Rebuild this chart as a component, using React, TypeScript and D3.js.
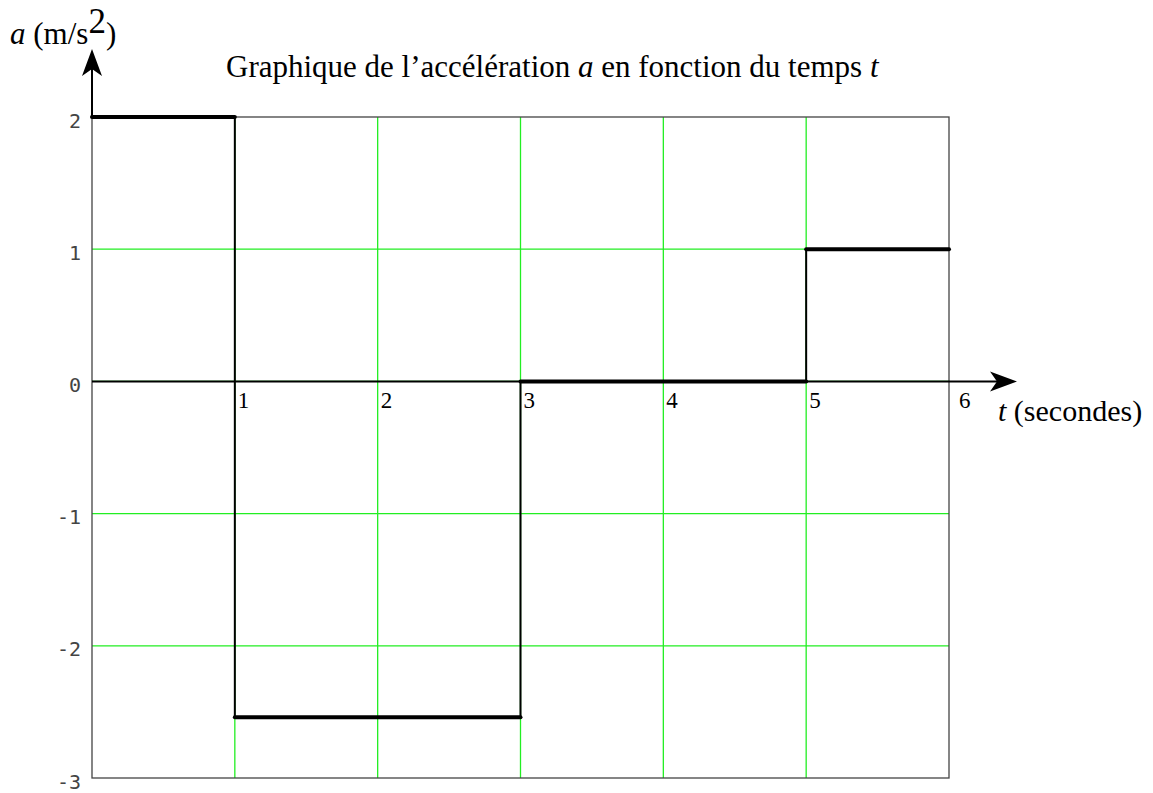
import React from "react";
import * as d3 from "d3";

// Piecewise-constant acceleration a(t)
const segStart = [0, 1, 3, 5];
const segEnd = [1, 3, 5, 6];
const accel = [2, -2.54, 0, 1];

const xTicks = [1, 2, 3, 4, 5, 6];
const yTicks = [2, 1, 0, -1, -2, -3];

const W = 1153;
const H = 793;

export default function App() {
  const x = d3.scaleLinear().domain([0, 6]).range([92, 949]);
  const y = d3.scaleLinear().domain([-3, 2]).range([778, 117]);

  const serif = "'Liberation Serif', 'Times New Roman', serif";
  const mono = "'DejaVu Sans Mono', monospace";

  const verticals = segStart.slice(1).map((t, i) => ({
    t,
    from: accel[i],
    to: accel[i + 1],
  }));

  return (
    <svg
      width={W}
      height={H}
      style={{ position: "absolute", left: 0, top: 0, background: "#fff" }}
    >
      {/* grid */}
      {xTicks.slice(0, 5).map((t) => (
        <line key={"gx" + t} x1={x(t)} x2={x(t)} y1={y(2)} y2={y(-3)} stroke="#22ee22" strokeWidth={1.3} />
      ))}
      {yTicks.slice(1, 5).map((v) => (
        <line key={"gy" + v} x1={x(0)} x2={x(6)} y1={y(v)} y2={y(v)} stroke="#22ee22" strokeWidth={1.3} />
      ))}
      {/* frame */}
      <rect x={x(0)} y={y(2)} width={x(6) - x(0)} height={y(-3) - y(2)} fill="none" stroke="#444" strokeWidth={1.3} />

      {/* time axis with arrow */}
      <line x1={x(0)} x2={1012} y1={y(0)} y2={y(0)} stroke="#000" strokeWidth={2} />
      <path d={`M1017,${y(0)} L990,${y(0) - 10} L997,${y(0)} L990,${y(0) + 10} Z`} fill="#000" />
      {/* acceleration axis with arrow */}
      <line x1={x(0)} x2={x(0)} y1={y(2)} y2={54} stroke="#000" strokeWidth={2} />
      <path d={`M${x(0)},49 L${x(0) - 10},76 L${x(0)},69 L${x(0) + 10},76 Z`} fill="#000" />

      {/* y tick labels */}
      {yTicks.map((v) => (
        <text key={"yl" + v} x={81} y={y(v) + 10.5} textAnchor="end" fontFamily={mono} fontSize={20} fill="#444">
          {v < 0 ? "-" + Math.abs(v) : v}
        </text>
      ))}
      {/* x tick labels */}
      {xTicks.map((t) => (
        <text key={"xl" + t} x={x(t) + (t === 6 ? 10 : 3)} y={y(0) + 27} fontFamily={serif} fontSize={23} fill="#000">
          {t}
        </text>
      ))}

      {/* data: vertical jumps */}
      {verticals.map((s) => (
        <line key={"v" + s.t} x1={x(s.t)} x2={x(s.t)} y1={y(s.from)} y2={y(s.to)} stroke="#000" strokeWidth={2} />
      ))}
      {/* data: constant segments */}
      {accel.map((a, i) => (
        <line
          key={"h" + i}
          x1={x(segStart[i])}
          x2={x(segEnd[i])}
          y1={y(a)}
          y2={y(a)}
          stroke="#000"
          strokeWidth={4}
          strokeLinecap="round"
        />
      ))}

      {/* titles */}
      <text x={226} y={77} fontFamily={serif} fontSize={31} fill="#000">
        Graphique de l’accélération <tspan fontStyle="italic">a</tspan> en fonction du temps <tspan fontStyle="italic">t</tspan>
      </text>
      <text x={10} y={44} fontFamily={serif} fontSize={31} fill="#000">
        <tspan fontStyle="italic">a</tspan> (m/s<tspan dy={-11} fontSize={35}>2</tspan><tspan dy={11}>)</tspan>
      </text>
      <text x={998} y={421} fontFamily={serif} fontSize={30} fill="#000">
        <tspan fontStyle="italic">t</tspan> (secondes)
      </text>
    </svg>
  );
}
